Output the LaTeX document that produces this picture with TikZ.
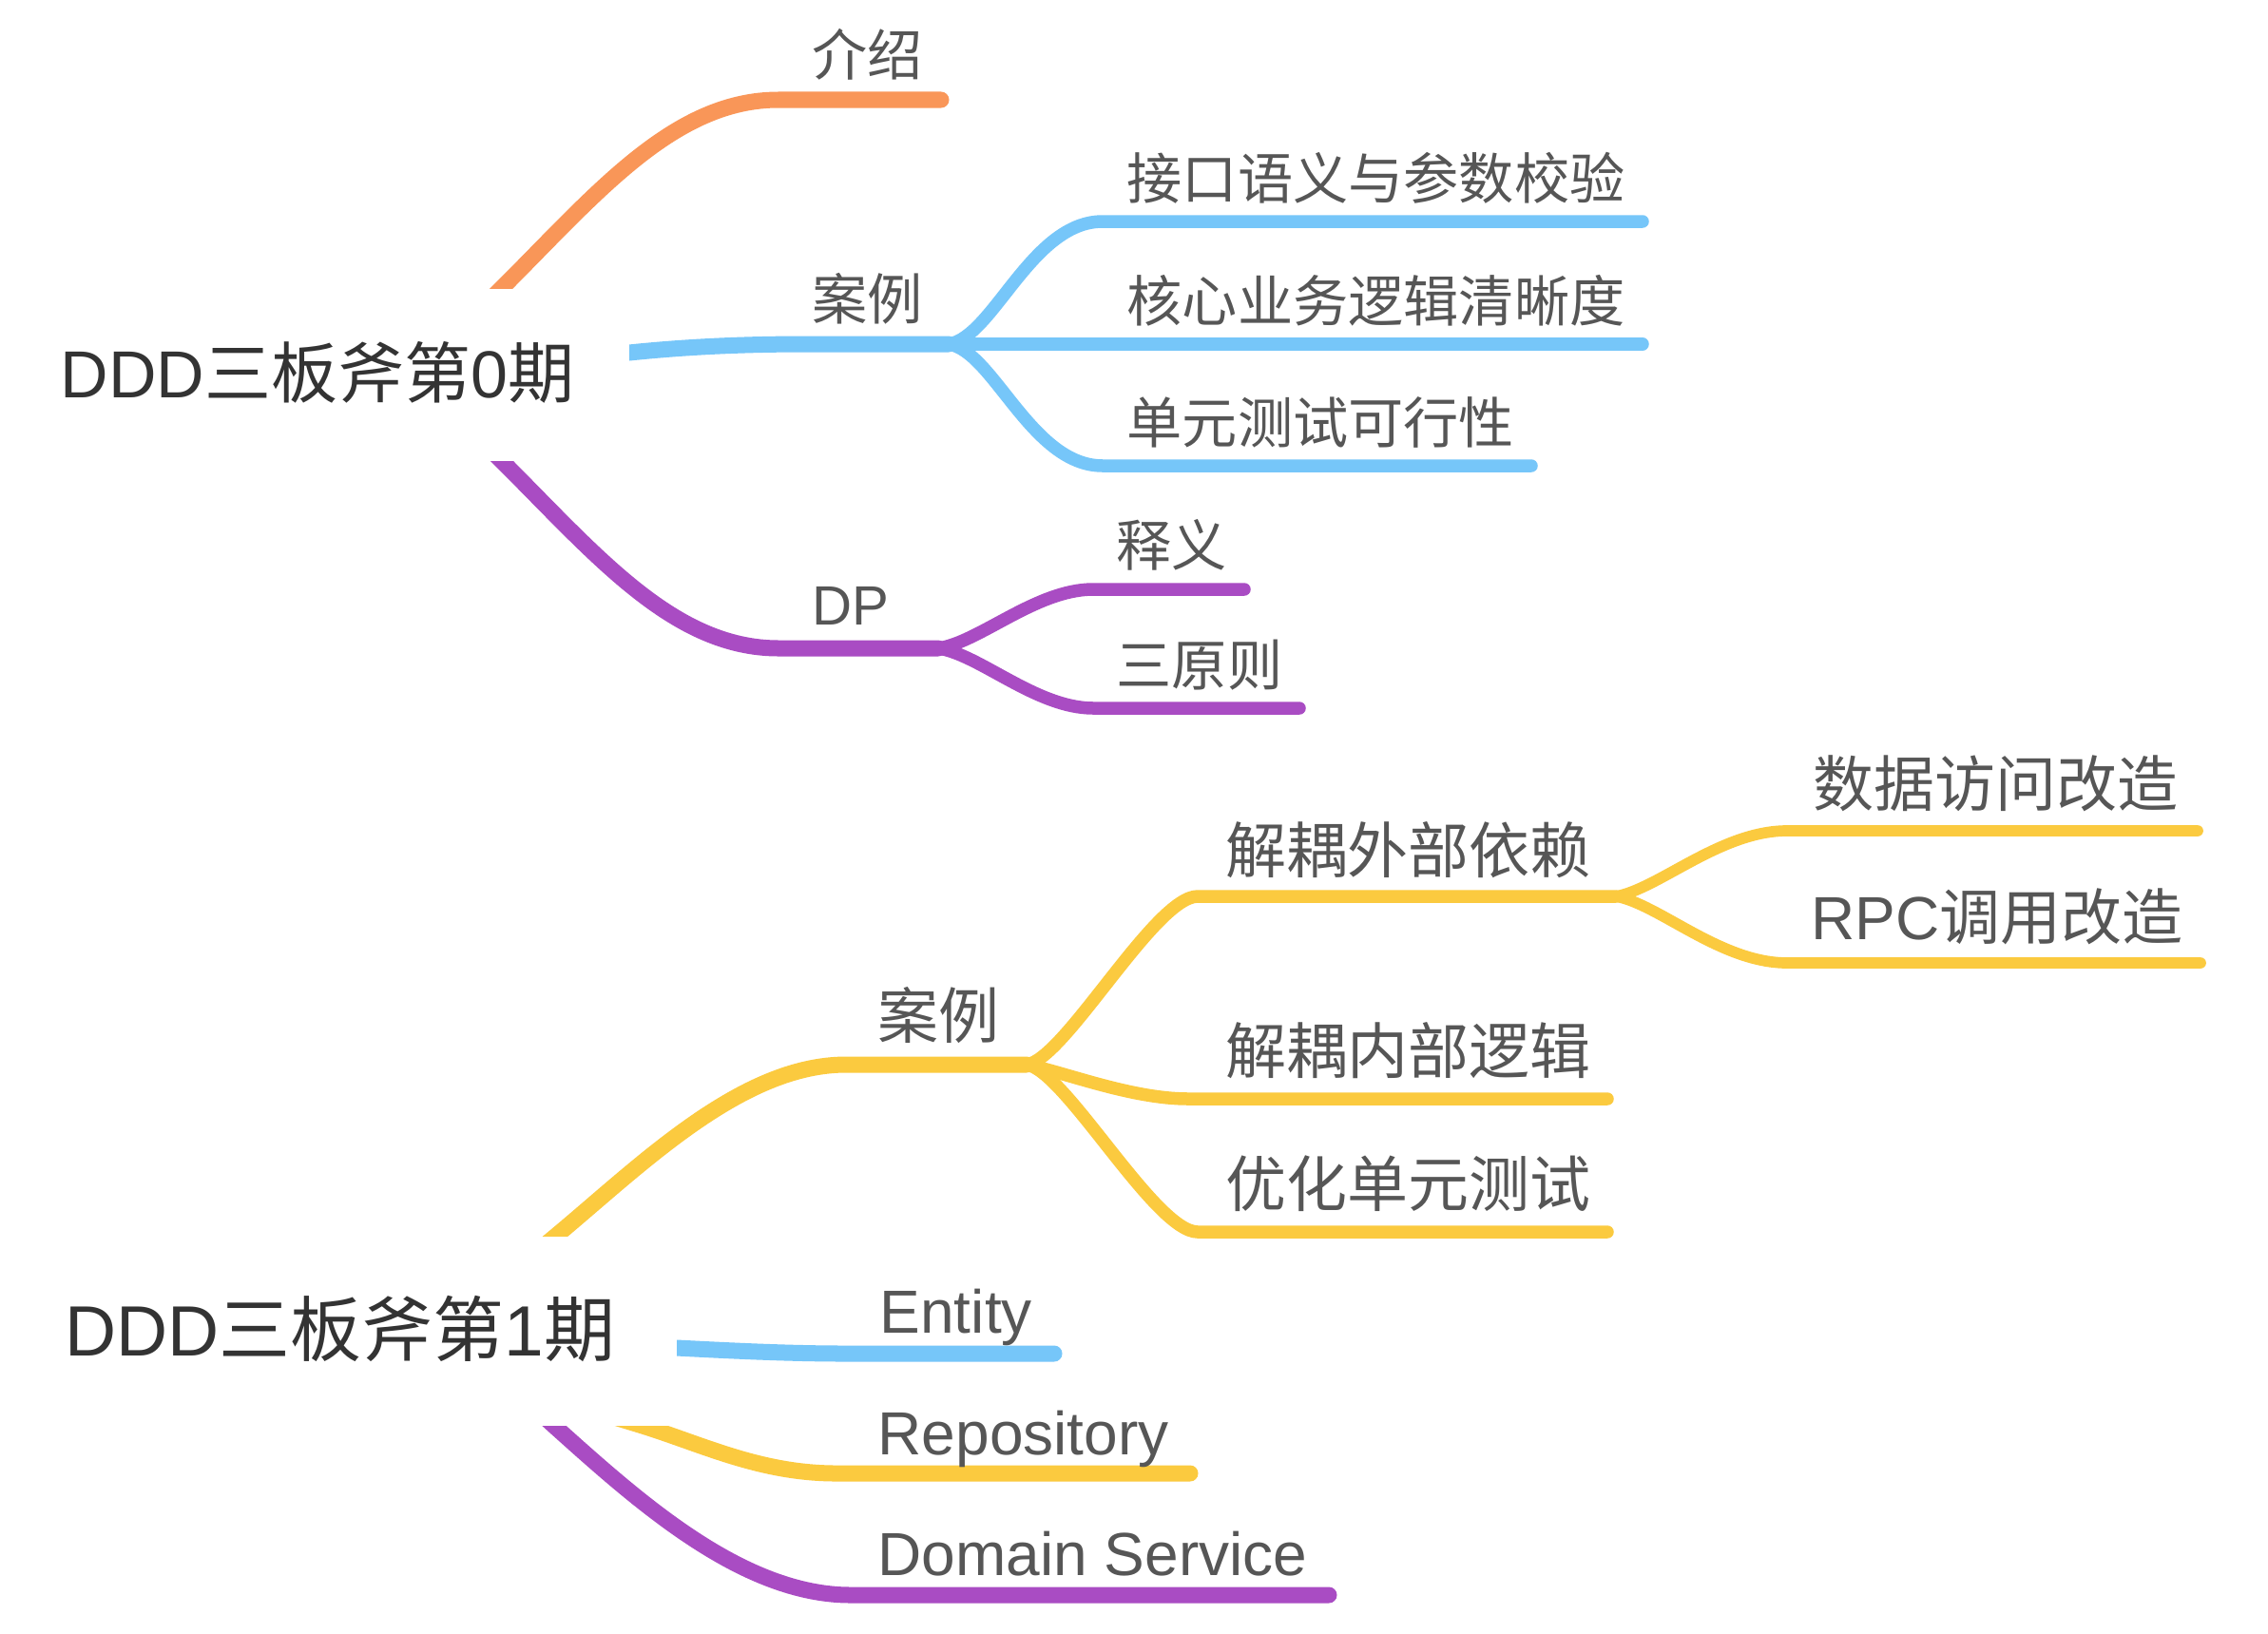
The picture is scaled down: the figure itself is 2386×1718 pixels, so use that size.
\documentclass[tikz,border=0pt]{standalone}
\usepackage{fontspec}
\setmainfont{Liberation Sans}
\newfontfamily\zhfont{Noto Sans CJK SC}
\newcommand{\zh}[1]{{\zhfont #1}}

\definecolor{cOrange}{HTML}{F99658}
\definecolor{cBlue}{HTML}{76C6F9}
\definecolor{cPurple}{HTML}{A94CC3}
\definecolor{cYellow}{HTML}{FBCA3F}
\definecolor{cRoot}{HTML}{333333}
\definecolor{cLabel}{HTML}{565656}

\tikzset{
  lvlone/.style={line width=0.17cm, line cap=round},
  lvltwo/.style={line width=0.135cm, line cap=round},
  lvlthree/.style={line width=0.117cm, line cap=round},
  roottext/.style={anchor=base west, inner sep=0pt, text=cRoot},
  toplabel/.style={anchor=base west, inner sep=0pt, text=cLabel, font=\fontsize{16.55pt}{19pt}\selectfont},
  botlabel/.style={anchor=base west, inner sep=0pt, text=cLabel, font=\fontsize{18.2pt}{21pt}\selectfont},
}

\begin{document}
\begin{tikzpicture}[x={(0.01cm,0)}, y={(0,-0.01cm)}]
\useasboundingbox (0,0) rectangle (2386,1718);
\fill[white] (0,0) rectangle (2386,1718);

% ---------------- first mind map ----------------
\node[roottext, font=\fontsize{19.9pt}{23pt}\selectfont] (root0) at (63,418) {DDD\zh{三板斧第}0\zh{期}};

% where the branches leave the root box
\coordinate (r0top) at (528,303);
\coordinate (r0right) at (662,371);
\coordinate (r0bot) at (528,485);
% junctions
\coordinate (j0case) at (998,362);
\coordinate (j0dp) at (987,682);

\begin{scope}
  \clip (0,0) rectangle (2386,303);
  \draw[lvlone, cOrange] (510,321) -- (r0top) .. controls (628,203) and (709,105) .. (819,105) -- (990,105);
\end{scope}
\begin{scope}
  \clip (662,0) rectangle (2386,800);
  \draw[lvlone, cBlue] (640,372) -- (r0right) .. controls (720,365) and (780,362) .. (850,362) -- (j0case);
\end{scope}
\begin{scope}
  \clip (0,485) rectangle (2386,800);
  \draw[lvlone, cPurple] (510,467) -- (r0bot) .. controls (628,585) and (709,682) .. (819,682) -- (j0dp);
\end{scope}

\node[toplabel] (t0intro) at (854,79) {\zh{介绍}};
\node[toplabel] (t0case) at (854,336) {\zh{案例}};
\node[toplabel] (t0dp) at (854,657) {DP};

% children of the case branch
\draw[lvltwo, cBlue] (j0case) .. controls (1045,355) and (1085,233) .. (1160,233) -- (1728,233);
\draw[lvltwo, cBlue] (j0case) -- (1728,362);
\draw[lvltwo, cBlue] (j0case) .. controls (1045,369) and (1085,490) .. (1160,490) -- (1611,490);
\node[toplabel] (t0c1) at (1185,209) {\zh{接口语义与参数校验}};
\node[toplabel] (t0c2) at (1185,338) {\zh{核心业务逻辑清晰度}};
\node[toplabel] (t0c3) at (1185,466) {\zh{单元测试可行性}};

% children of the DP branch
\draw[lvltwo, cPurple] (j0dp) .. controls (1030,676) and (1090,620) .. (1150,620) -- (1309,620);
\draw[lvltwo, cPurple] (j0dp) .. controls (1030,688) and (1090,745) .. (1150,745) -- (1367,745);
\node[toplabel] (t0d1) at (1174,595) {\zh{释义}};
\node[toplabel] (t0d2) at (1174,721) {\zh{三原则}};

% ---------------- second mind map ----------------
\node[roottext, font=\fontsize{21.3pt}{25pt}\selectfont] (root1) at (68,1426) {DDD\zh{三板斧第}1\zh{期}};

\coordinate (r1top) at (585,1300);
\coordinate (r1right) at (712,1418);
\coordinate (r1repo) at (676,1500);
\coordinate (r1bot) at (583,1500);
\coordinate (j1case) at (1080,1120);
\coordinate (j1ext) at (1700,943);

\begin{scope}
  \clip (0,800) rectangle (2386,1300);
  \draw[lvlone, cYellow] (561,1320) -- (r1top) .. controls (675,1225) and (780,1120) .. (890,1120) -- (j1case);
\end{scope}
\begin{scope}
  \clip (712,1300) rectangle (2386,1500);
  \draw[lvlone, cBlue] (690,1418) -- (r1right) .. controls (770,1421) and (830,1424) .. (890,1424) -- (1109,1424);
\end{scope}
\begin{scope}
  \clip (0,1500) rectangle (2386,1718);
  \draw[lvlone, cYellow] (640,1489) -- (r1repo) .. controls (740,1520) and (800,1550) .. (880,1550) -- (1252,1550);
  \draw[lvlone, cPurple] (560,1479) -- (r1bot) .. controls (670,1578) and (780,1678) .. (895,1678) -- (1398,1678);
\end{scope}

\node[botlabel] (t1case) at (923,1092) {\zh{案例}};
\node[botlabel] (t1ent) at (925,1402) {Entity};
\node[botlabel] (t1repo) at (923,1530) {Repository};
\node[botlabel] (t1dom) at (923,1657) {Domain Service};

% children of the case branch
\draw[lvltwo, cYellow] (j1case) .. controls (1120,1115) and (1215,943) .. (1260,943) -- (j1ext);
\draw[lvltwo, cYellow] (j1case) .. controls (1120,1128) and (1190,1156) .. (1250,1156) -- (1691,1156);
\draw[lvltwo, cYellow] (j1case) .. controls (1120,1125) and (1215,1296) .. (1260,1296) -- (1691,1296);
\node[botlabel] (t1ext) at (1289,918) {\zh{解耦外部依赖}};
\node[botlabel] (t1int) at (1289,1129) {\zh{解耦内部逻辑}};
\node[botlabel] (t1test) at (1289,1269) {\zh{优化单元测试}};

% children of the external dependency branch
\draw[lvlthree, cYellow] (j1ext) .. controls (1745,935) and (1810,874) .. (1880,874) -- (2312,874);
\draw[lvlthree, cYellow] (j1ext) .. controls (1745,951) and (1810,1013) .. (1880,1013) -- (2315,1013);
\node[botlabel] (t1data) at (1907,848) {\zh{数据访问改造}};
\node[botlabel] (t1rpc) at (1905,988) {RPC\zh{调用改造}};

\end{tikzpicture}
\end{document}
